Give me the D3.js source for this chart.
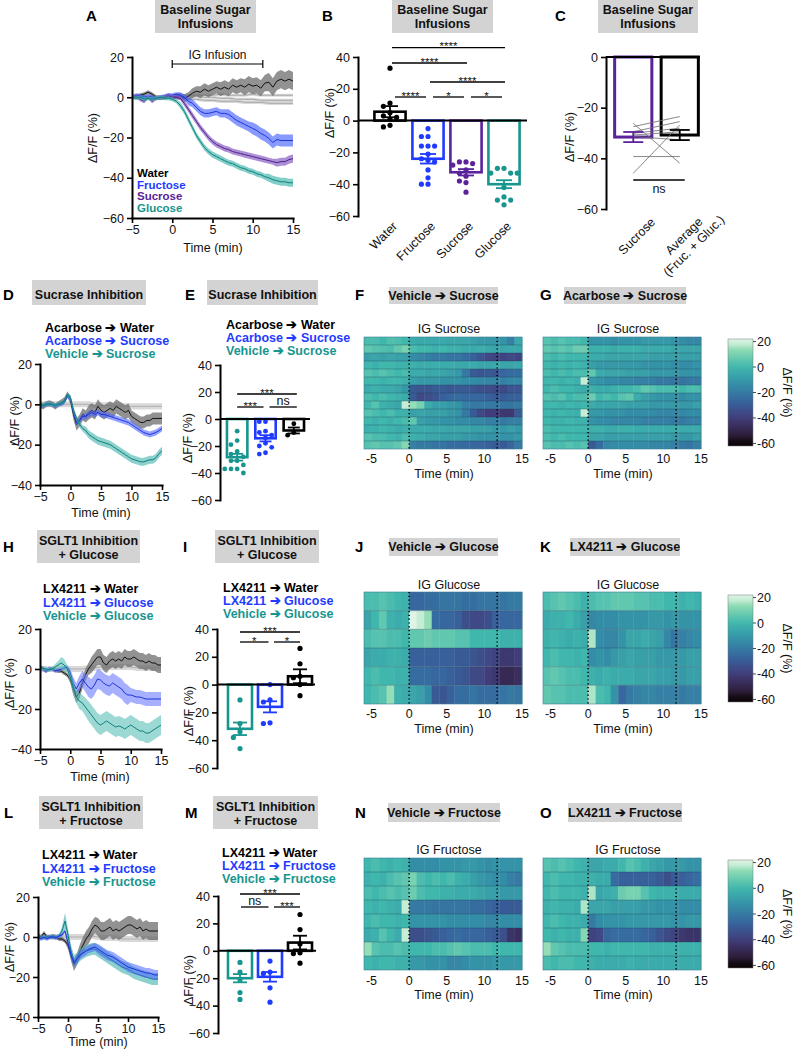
<!DOCTYPE html>
<html><head><meta charset="utf-8">
<script src="https://cdn.jsdelivr.net/npm/d3@7"></script>
<style>body{margin:0;background:#fff}</style>
</head><body>
<svg id="fig" width="795" height="1050"></svg>
<script>
// ======================= DATA =======================
const timeHalf = [-5,-4.5,-4,-3.5,-3,-2.5,-2,-1.5,-1,-0.5,0,0.5,1,1.5,2,2.5,3,3.5,4,4.5,5,5.5,6,6.5,7,7.5,8,8.5,9,9.5,10,10.5,11,11.5,12,12.5,13,13.5,14,14.5,15];
const timeWhole = [-5,-4,-3,-2,-1,0,1,2,3,4,5,6,7,8,9,10,11,12,13,14,15];
const xTicks = [-5,0,5,10,15];
const yTicksLine = [20,0,-20,-40,-60];
const yTicksShort = [20,0,-20,-40];
const yTicksBar = [40,20,0,-20,-40,-60];
const yTicksC = [0,-20,-40,-60];

// Panel A
const waterA_m = [0,0.5,1,1.5,2.5,1.5,0,-0.5,0,1,0,0.5,0.5,-0.5,0.5,2,3,2.5,4,3,4,5,4,5,4,6,5,6,5,6.5,5.5,6,4.5,7,7.5,5,8,9,8,9,8];
const waterA_s = [1,1,1,1,1,1,1,1,1,1,1,1.5,1.5,2,2,2.5,2.5,3,3,3,3,3,3.5,3.5,3.5,3.5,3.5,3.5,4,4,4,4,4,4,4.5,4.5,4.5,4.5,4.5,4.5,4.5];
const fructA_m = [0,1,0.5,0,0.5,0,-0.5,0,0.5,1,1,1.5,1,0,-2,-3,-5,-7,-8,-8,-7.5,-7,-8,-8,-8.5,-10,-11.5,-12.5,-13.5,-14.5,-15.5,-16.5,-18,-19,-20.5,-22.5,-21,-21.5,-21.5,-21.5,-21.5];
const fructA_s = [1,1,1,1,1,1,1,1,1,1,1,1,1.5,1.5,2,2,2,2,2,2,2,2,2,2,2.5,2.5,2.5,2.5,2.5,2.5,3,3,3,3,3,3,3,3,3,3,3];
const sucA_m = [0,0.5,-1,-2,0,-2,-0.5,0,0,0.5,0,0,-0.5,-3,-6,-9,-12,-15,-17.5,-20,-22,-23.5,-24.5,-25.5,-26,-27,-27.5,-28,-28.5,-29,-29.5,-30,-30.5,-31,-31.5,-32,-32.5,-32,-32,-31,-30.5];
const sucA_s = [1,1,1,1,1,1,1,1,1,1,1,1,1,1.5,1.5,1.5,1.5,1.5,1.5,1.5,1.5,1.5,1.5,1.5,1.5,1.5,1.5,1.5,1.5,1.5,1.5,1.5,1.5,1.5,1.5,1.5,2,2,2,2,2];
const glucA_m = [0,-0.5,0,-1,-0.5,-1,-0.5,0,-0.5,-0.5,-1,-2,-4,-7,-11,-15,-19,-22,-25,-27,-28.5,-29.5,-30.5,-31.5,-32.5,-33,-34,-35,-35.5,-36.5,-37,-38,-38.5,-39.5,-40,-41,-41.5,-42,-42,-42.5,-42.5];
const glucA_s = [1,1,1,1,1,1,1,1,1,1,1,1,1.5,1.5,1.5,1.5,1.5,1.5,1.5,1.5,1.5,1.5,1.5,1.5,1.5,1.5,1.5,1.5,1.5,1.5,1.5,1.5,1.5,1.5,2,2,2,2,2,2,2];
const ctrlA1 = [0,0,0.5,0,0,0,0,0.5,0.5,0,0,-0.5,-0.5,-1,-1,-1,-1.5,-1.5,-1.5,-1.5,-1.5];
const ctrlA2 = [0,0.5,0,0,-0.5,0,-0.5,-1,-1,-1.5,-1.5,-2,-2,-2,-2.5,-2.5,-2.5,-3,-3,-3,-3];
const ctrlA3 = [0,0,0,0.5,0,0,0.5,1,1,1,1,1.5,1,1,1,1.5,1,1,1,1,1];
const ctrlA_s = [0.8,0.8,0.8,0.8,0.8,0.8,0.8,0.8,0.8,0.8,0.8,0.8,0.8,0.8,0.8,0.8,0.8,0.8,0.8,0.8,0.8];
const infusionBracket = [0, 11.25];

// Panel B
const catsB = ["Water","Fructose","Sucrose","Glucose"];
const meanB = [5.6,-24,-32.5,-40];
const semB = [3.5,3,2,2.5];
const ptsB = [
  [33,11,9,5,3,2,1,-3,-4],
  [-5,-10,-10,-16,-16,-16,-21,-24,-25,-26,-31,-36,-40,-40],
  [-27,-26,-26,-28,-31,-33,-35,-38,-39,-45],
  [-30,-30,-33,-33,-33,-42,-48,-50,-50,-53]
];
const sigB = [[0,3,"****"],[0,2,"****"],[1,3,"****"],[0,1,"****"],[1,2,"*"],[2,3,"*"]];

// Panel C
const catsC = ["Sucrose","Average"];
const meanC = [-31.6,-30.8];
const semC = [2,2];
const pairSucrose = [-26.2,-45.9,-39.3,-27.5,-29.5,-30.1,-30.8,-31.4];
const pairAverage = [-41.9,-26.8,-39.3,-23.5,-25.5,-28.1,-29.5,-32.7];

// Panel D
const blackD_m = [0,-1,0,0.5,0,-1,0,1,2,5,2,-5,-10,-8,-5,-6,-4,-3,-4,-1,-3,-4,-3,-2,-3,-1,-2,-3,-4,-3,-6,-7,-8,-9,-9,-8,-8,-7,-7,-7,-7];
const blackD_s = [1.5,1.5,1.5,1.5,1.5,1.5,1.5,1.5,1.5,1.5,2,3,3,3,3,3,3.5,3.5,3.5,3.5,3.5,3.5,3.5,3.5,3.5,3.5,3.5,3.5,3.5,3.5,3,3,3,3,3,3,3,3,3,3,3];
const blueD_m = [0,-1,0,0,0,-1,0,0,1,4,3,-4,-9,-8,-6,-6,-5,-4,-5,-4,-5,-5,-5.5,-6,-6.5,-7,-7.5,-8,-8.5,-9,-10,-11,-12,-13,-14,-14.5,-15,-14.5,-14,-13,-12];
const blueD_s = [1,1,1,1,1,1,1,1,1,1,1.5,1.5,1.5,1.5,1.5,1.5,1.5,1.5,1.5,1.5,1.5,1.5,1.5,1.5,1.5,1.5,1.5,1.5,1.5,1.5,1.5,1.5,1.5,1.5,1.5,1.5,1.5,1.5,1.5,1.5,1.5];
const tealD_m = [0,-0.5,0,0,0,-0.5,0,0.5,1.5,5,3,-3,-7,-10,-12,-13,-15,-16,-17,-18,-18.5,-19,-19.5,-20,-21,-22,-23,-24,-25,-26,-27,-27.5,-28,-28.5,-28.5,-28,-27.5,-27.5,-26.5,-24.5,-23];
const tealD_s = [1,1,1,1,1,1,1,1,1,1,1.5,1.5,1.5,1.5,1.5,2,2,2,2,2,2,2,2,2,2,2,2,2,2,2,2,2,2,2,2,2,2,2,2,2,2];
const ctrlD = [0,0,0,0,0,0,0,0,0,-0.5,-0.5,-0.5,-0.5,-0.5,-1,-1,-1,-1,-1,-1,-1];
const ctrlD_s = [1.5,1.5,1.5,1.5,1.5,1.5,1.5,1.5,1.5,1.5,1.5,1.5,1.5,1.5,1.5,1.5,1.5,1.5,1.5,1.5,1.5];

// Panel E
const catsE = ["Vehicle→Sucrose","Acarbose→Sucrose","Acarbose→Water"];
const meanE = [-28.3,-14.3,-8.5];
const semE = [2.5,2.3,2.2];
const ptsE = [
  [-9,-16,-19,-24,-26,-28,-31,-31,-34,-37,-37,-37,-40],
  [-2,-2,-9,-10,-12,-14,-18,-20,-21,-25,-26],
  [-3.5,-10,-12]
];
const sigE = [[0,2,"***"],[0,1,"***"],[1,2,"ns"]];

// Panel H
const blackH_m = [1,0,-1,0,0,-0.5,-1,-1,-2,-3,-5,-10,-14,-12,-7,-3,0,2,4,6,6,3,2,4,5,4,5,4,6,5,5,6,5,4,4,3,4,3,3,2,2];
const blackH_s = [1,1,1,1,1,1,1,1,1,1,2,3,3,3,3,3,3,4,4,4,4,4,4,4,4,4,4,4,4,4,4,4,4,4,4,4,4,4,4,4,4];
const blueH_m = [1,0,-1,0,0,-1,-0.5,0,0.5,1,-2,-7,-10,-7,-5,-7,-9,-10,-8,-5,-5.5,-7,-8,-8.5,-7,-8,-9,-10,-12,-13,-13,-13.5,-14,-14,-14.5,-15,-15,-15,-15,-15,-15];
const blueH_s = [1,1,1,1,1,1,1,1,1,1,2,3,3,3.5,4,4.5,5,5,5,5,5,5,5,5,5,5,5,5,5,5,3.5,3.5,3.5,3.5,3.5,3.5,3.5,3.5,3.5,3.5,3.5];
const tealH_m = [1,0.5,0,-0.5,0,1,2,3,2,0,-4,-9,-14,-16,-17,-19,-21,-23,-25,-27,-28,-27,-26,-27,-28,-29,-28.5,-29,-30,-29,-28,-29,-30,-31,-31,-32,-32,-31,-30,-29,-28];
const tealH_s = [1,1,1,1,1,1.5,2,3,3,2,2,3,3,4,4,4.5,5,5,5,5,5,5,5,5,5,5,5,5,5,5,5,5,5,5,5,5,5,5,5,5,5];
const ctrlH = [0,0,0,0,0,0,0,0,0.5,0.5,1,1,1,1,1,1,0.5,0.5,0.5,0.5,0.5];
const ctrlH_s = [1.5,1.5,1.5,1.5,1.5,1.5,1.5,1.5,1.5,1.5,1.5,1.5,1.5,1.5,1.5,1.5,1.5,1.5,1.5,1.5,1.5];

// Panel I
const catsI = ["Vehicle→Glucose","LX4211→Glucose","LX4211→Water"];
const meanI = [-31.8,-16,6];
const semI = [4.5,4,5];
const ptsI = [[-11,-28,-34,-38,-46],[0,-11,-12.5,-27.5,-28],[26,15,6,5,0,-8]];
const sigI = [[0,2,"***"],[0,1,"*"],[1,2,"*"]];

// Panel L
const blackL_m = [1,0,2,0,0,0.5,0,-1,-1,-2,-4,-9,-14,-11,-7,-4,-1,1,4,6,5,3,3,4,5,3,4,3,4,5,6,6,5,4,5,3,4,3,3,3,3];
const blackL_s = [1,1,1,1,1,1,1,1,1,1,2,3,3,3,3.5,4,4,4,4,4,4.5,4.5,4.5,4.5,4.5,4.5,4.5,4.5,4.5,4.5,4.5,4.5,4.5,4.5,4.5,4.5,4.5,4.5,4.5,4.5,4.5];
const blueL_m = [0,-1,0,-1,0,0,-0.5,0.5,1,3,-3,-9,-13,-11,-9,-8,-7,-6,-5.5,-5,-6,-7,-8,-9,-9.5,-10,-11,-12,-13,-14,-15,-15.5,-16,-16.5,-17,-17.5,-18,-18,-18.5,-19,-19];
const blueL_s = [1,1,1,1,1,1,1,1,1,1,2,2,2,2,2,2,2,2,2,2,2.5,2.5,2.5,2.5,2.5,2.5,2.5,2.5,2.5,2.5,2.5,2.5,2.5,2.5,2.5,2.5,2.5,2.5,2.5,2.5,2.5];
const tealL_m = [0,0,-0.5,0,0,0,0,0.5,3,8,1,-7,-12,-11,-9,-8,-7,-6.5,-6,-6,-7,-8,-9,-10,-11,-12,-13,-14,-15,-15.5,-16,-17,-18,-18.5,-19,-19.5,-20,-20.5,-21,-21,-21];
const tealL_s = [1,1,1,1,1,1,1,1,2,4,3,3,3,3,3,3,3,3,3,3,3,3,3,3,3,3,3,3,3,3,3,3,3,3,3,3,3,3,3,3,3];
const ctrlL = [0,0,0,0,0,0,0,0,0,0.5,0,-0.5,-0.5,-0.5,-1,-1,-1,-1,-1,-1,-1];
const ctrlL_s = [1.5,1.5,1.5,1.5,1.5,1.5,1.5,1.5,1.5,1.5,1.5,1.5,1.5,1.5,1.5,1.5,1.5,1.5,1.5,1.5,1.5];

// Panel M
const catsM = ["Vehicle→Fructose","LX4211→Fructose","LX4211→Water"];
const meanM = [-20,-19,6];
const semM = [3,3.5,5];
const ptsM = [[-8.5,-15.5,-21,-30.5,-35.5],[-7.5,-15.5,-16.5,-27,-37.5],[26.5,15.5,5,-1.5,-2,-9]];
const sigM = [[0,2,"***"],[0,1,"ns"],[1,2,"***"]];

// Heatmaps: 1-min bins starting at these times
const heatBins = [-6,-5,-4,-3,-2,-1,0,1,2,3,4,5,6,7,8,9,10,11,12,13,14];
const heatF = [
 [2,2,0,3,2,0,-4,-5,-5,-5,-5,-6,-6,-6,-8,-10,-10,-10,-12,-18,-5],
 [6,4,3,2,6,10,2,0,0,-2,0,-2,-2,-4,-4,-3,-5,-6,-6,-5,-5],
 [-8,-6,-8,-6,-8,-8,-14,-16,-18,-20,-20,-22,-22,-24,-28,-32,-36,-38,-38,-36,-38],
 [0,-2,0,0,-2,-2,-2,-4,-4,-3,-4,-4,-5,-5,-4,-6,-6,-5,-6,-6,-5],
 [4,2,4,2,0,2,-4,-4,-6,-5,-6,-8,-10,-20,-30,-32,-30,-32,-26,-24,-24],
 [0,0,-2,0,0,-2,-8,-10,-10,-10,-12,-12,-12,-14,-14,-15,-16,-16,-18,-16,-16],
 [-4,-2,-4,-4,-6,-10,-30,-32,-32,-30,-30,-32,-30,-30,-32,-34,-34,-36,-36,-32,-32],
 [2,0,2,0,-2,-4,-30,-36,-34,-32,-28,-26,-24,-26,-26,-26,-28,-30,-30,-28,-28],
 [0,4,-2,-4,-6,18,14,10,-4,-8,-8,-10,-12,-18,-20,-20,-20,-20,-22,-22,-20],
 [4,2,0,2,-2,-2,-8,-6,-8,-8,-8,-10,-12,-20,-30,-36,-40,-40,-42,-42,-30],
 [0,-2,0,-2,0,2,6,-8,-10,-10,-12,-12,-14,-14,-16,-16,-18,-18,-20,-18,-18],
 [-2,-2,0,-2,-4,-2,-4,-4,-4,-5,-5,-6,-6,-6,-8,-8,-8,-10,-10,-8,-10],
 [4,2,2,0,-2,2,-2,-4,-6,-6,-8,-8,-8,-10,-10,-12,-12,-12,-12,-12,-10],
 [4,6,4,4,6,12,-18,-20,-20,-22,-22,-24,-24,-25,-26,-26,-28,-30,-30,-26,-20]
];
const heatG = [
 [4,2,4,2,2,0,-12,-12,-12,-14,-12,-12,-12,-10,-10,-10,-10,-12,-14,-16,-16],
 [6,4,6,4,8,8,-2,-2,-2,-4,-2,-2,-2,-4,-4,-4,-4,-6,-6,-6,-6],
 [2,0,2,0,0,0,-4,-4,-6,-6,-6,-6,-6,-6,-8,-8,-8,-8,-8,-8,-8],
 [0,-2,0,-2,0,-2,-8,-10,-10,-10,-10,-10,-10,-12,-12,-12,-12,-14,-14,-14,-12],
 [2,0,2,0,2,2,6,-4,-6,-6,-6,-8,-8,-8,-10,-10,-10,-10,-12,-12,-12],
 [0,0,-2,0,-2,18,-10,-12,-14,-14,-16,-16,-18,-18,-18,-20,-20,-22,-22,-20,-20],
 [0,2,0,0,-2,-4,-2,-4,-4,-2,0,0,2,6,4,2,2,2,0,2,2],
 [4,2,4,0,2,2,8,0,2,0,4,6,-4,-8,-10,-12,-12,-12,-14,-12,-12],
 [0,0,-2,0,-2,0,-4,-6,-6,-6,-6,-8,-8,-8,-10,-10,-10,-10,-10,-10,-8],
 [0,-2,0,-2,-2,18,-10,-10,-12,-12,-12,-14,-14,-14,-14,-16,-16,-16,-16,-14,-14],
 [0,-2,-2,0,-2,-2,-12,-14,-14,-16,-16,-16,-16,-18,-18,-18,-18,-20,-20,-18,-18],
 [2,0,0,0,0,0,-2,-2,-4,-4,-2,-2,-4,-4,-4,-4,-4,-4,-4,-4,-4],
 [2,0,2,0,0,0,-6,-6,-8,-8,-8,-8,-8,-8,-8,-8,-8,-10,-10,-10,-8],
 [4,2,2,4,2,4,-30,-24,-16,-14,-14,-14,-14,-14,-16,-16,-16,-18,-20,-22,-18]
];
const heatJ = [
 [2,2,4,2,0,-2,-26,-26,-24,-24,-22,-22,-22,-24,-24,-22,-22,-22,-22,-20,-20],
 [-6,0,6,-2,-4,-2,20,18,14,-24,-26,-26,-28,-34,-36,-36,-34,-28,-26,-26,-26],
 [2,4,4,2,2,0,6,6,8,6,6,6,4,4,0,0,0,0,-2,-2,-2],
 [-6,-4,-4,-2,-2,-4,-28,-28,-28,-28,-28,-28,-30,-30,-32,-34,-36,-38,-42,-42,-40],
 [0,2,0,0,-2,-2,-24,-24,-24,-26,-26,-28,-30,-32,-36,-36,-40,-42,-48,-48,-46],
 [0,2,4,14,-2,-4,-6,-8,-14,-30,-32,-28,-24,-24,-22,-24,-24,-24,-22,-20,-22]
];
const heatK = [
 [2,4,6,4,2,-2,2,4,4,6,6,6,4,4,2,2,0,0,-2,0,-2],
 [-4,-2,-2,0,-4,-8,-16,-14,-14,-14,-12,-12,-12,-12,-10,-10,-12,-10,-12,-12,-12],
 [-2,0,-2,-4,-2,-4,16,-14,-16,-16,-12,-6,-6,-4,-6,-8,-16,-22,-18,-16,-14],
 [0,2,0,0,-2,0,-14,-12,-14,-10,-8,-6,-8,-8,-8,-10,-10,-10,-10,-8,-8],
 [4,6,4,2,2,0,-2,-4,-2,-4,-4,-4,-6,-6,-6,-8,-8,-10,-10,-8,-8],
 [6,4,4,2,2,2,16,2,0,-12,-26,-20,-18,-16,-16,-18,-18,-18,-20,-18,-18]
];
const heatN = [
 [0,2,0,-2,0,-2,-14,-14,-14,-14,-12,-12,-12,-10,-10,-12,-14,-12,-12,-12,-12],
 [-2,0,-2,2,4,6,10,2,0,2,0,2,-2,-4,-8,-10,-12,-14,-14,-18,-20],
 [2,0,2,4,2,4,8,2,0,0,-2,-2,-4,-4,-4,-6,-8,-8,-10,-10,-10],
 [0,-2,0,-2,-4,18,-20,-20,-20,-22,-22,-22,-22,-22,-24,-24,-26,-28,-30,-30,-30],
 [0,2,0,0,-2,0,-12,-12,-12,-12,-12,-14,-14,-14,-14,-14,-16,-16,-14,-14,-14],
 [-4,-2,4,0,-4,18,-34,-34,-32,-30,-28,-26,-24,-26,-26,-26,-28,-30,-34,-44,-46],
 [14,4,2,2,4,2,0,0,0,2,2,4,6,4,2,2,2,0,0,0,0],
 [0,-2,0,0,-2,-2,-10,-10,-12,-12,-12,-16,-16,-14,-12,-12,-12,-10,-10,-10,-10]
];
const heatO = [
 [4,2,4,2,0,-2,-6,-6,-4,-4,0,4,2,-2,-6,-8,-10,-10,-10,-12,-12],
 [0,2,0,0,-2,-2,-2,-4,-4,-24,-28,-28,-28,-28,-28,-30,-34,-30,-28,-26,-24],
 [0,2,0,0,0,-2,16,-6,-4,-2,8,10,10,4,0,-2,-2,-2,-4,-4,-4],
 [-2,0,-2,-2,-4,16,-6,-6,-6,-8,-8,-8,-8,-10,-10,-12,-12,-12,-14,-14,-14],
 [0,2,0,-2,-2,-4,-20,-14,-12,-12,-12,-10,-10,-10,-10,-10,-10,-12,-12,-10,-10],
 [0,-2,0,-2,-2,12,-38,-36,-26,-24,-24,-24,-24,-26,-28,-32,-36,-38,-42,-44,-44],
 [14,6,4,2,2,2,0,0,-2,0,0,0,0,0,-2,-2,-2,-2,-2,-2,-2],
 [2,0,2,2,0,0,-2,-4,-4,-4,-4,-2,-4,-4,-4,-4,-4,-4,-4,-4,-4]
];
const heatMarks = [0, 11.7];
const colorbarTicks = [20,0,-20,-40,-60];
const makoValues = [-60,-53.3,-40,-26.7,-13.3,0,13.3,20];
const makoColors = ['#0b0405','#2e1e3b','#413d7b','#37659e','#348fa7','#40b7ad','#8bdab2','#def5e5'];

// ======================= DRAWING =======================
const FONT = '"Liberation Sans", Arial, Helvetica, sans-serif';
const svg = d3.select('#fig').attr('font-family', FONT);
const C = {black:'#000000', blue:'#1f3bff', purple:'#5a239c', teal:'#17958f'};
const mako = d3.scaleLinear().domain(makoValues).range(makoColors).clamp(true);

function txt(x, y, s, o = {}) {
  const t = svg.append('text').attr('x', x).attr('y', y).text(s)
    .attr('font-size', o.size || 12.5).attr('fill', o.fill || '#111')
    .attr('text-anchor', o.anchor || 'start');
  if (o.bold) t.attr('font-weight', 'bold');
  return t;
}
function letter(x, y, s) { txt(x, y, s, {size: 15, bold: true, fill: '#000'}); }
function titleBox(x0, y0, x1, y1, lines, baselines) {
  svg.append('rect').attr('x', x0).attr('y', y0).attr('width', x1 - x0).attr('height', y1 - y0).attr('fill', '#d3d3d3');
  lines.forEach((l, i) => txt((x0 + x1) / 2, baselines[i], l, {bold: true, anchor: 'middle', fill: '#111'}));
}
function yLabel(x, y, s) {
  svg.append('text').attr('transform', `translate(${x},${y}) rotate(-90)`).attr('text-anchor', 'middle')
    .attr('font-size', 12.5).attr('fill', '#111').text(s);
}
function styleAxis(g) {
  g.attr('font-family', FONT).attr('font-size', 12.5);
  g.select('.domain').attr('stroke', '#000').attr('stroke-width', 2).attr('stroke-linecap', 'square');
  g.selectAll('.tick line').attr('stroke', '#000').attr('stroke-width', 1.6);
  g.selectAll('.tick text').attr('fill', '#111');
}
function legend(x, baselines, items, size) {
  items.forEach((it, i) => txt(x, baselines[i], it[0], {bold: true, fill: it[1], size: size || 12.5}));
}

function lineChart(o) {
  const x = d3.scaleLinear().domain([-5, 15]).range([o.x0, o.x1]);
  const y = d3.scaleLinear().domain(o.yd).range([o.yb, o.yt]);
  const g = svg.append('g');
  o.series.forEach(s => {
    const pts = s.t.map((t, i) => ({t, m: s.m[i], e: s.s[i]}));
    g.append('path').datum(pts)
      .attr('d', d3.area().x(d => x(d.t)).y0(d => y(d.m - d.e)).y1(d => y(d.m + d.e)))
      .attr('fill', s.band).attr('fill-opacity', s.op);
    g.append('path').datum(pts)
      .attr('d', d3.line().x(d => x(d.t)).y(d => y(d.m)))
      .attr('fill', 'none').attr('stroke', s.line).attr('stroke-width', s.w || 1);
  });
  styleAxis(g.append('g').attr('transform', `translate(${o.x0},0)`)
    .call(d3.axisLeft(y).tickValues(o.yTicks).tickSize(5).tickSizeOuter(0).tickPadding(3)));
  styleAxis(g.append('g').attr('transform', `translate(0,${o.yb})`)
    .call(d3.axisBottom(x).tickValues(xTicks).tickSize(5).tickSizeOuter(0).tickPadding(2)));
  return {x, y};
}

function swarm(vals, y, cx, r) {
  const order = vals.map((v, i) => i).sort((a, b) => vals[b] - vals[a]);
  const placed = [];
  const offs = [0, -1, 1, -2, 2, -3, 3];
  order.forEach(i => {
    const py = y(vals[i]);
    let done = false;
    for (const k of offs) {
      const px = cx + k * (2 * r + 1.4);
      if (placed.every(p => Math.hypot(p[0] - px, p[1] - py) >= 2 * r + 0.6)) { placed.push([px, py]); done = true; break; }
    }
    if (!done) placed.push([cx, py]);
  });
  return placed;
}

function barChart(o) {
  const x = d3.scaleBand().domain(o.cats).range(o.xr).paddingInner(o.pi).paddingOuter(o.po);
  const y = d3.scaleLinear().domain(o.yd).range([o.yb, o.yt]);
  const g = svg.append('g');
  const bw = x.bandwidth();
  o.cats.forEach((c, i) => {
    const v = o.vals[i], col = o.colors[i];
    g.append('rect').attr('x', x(c)).attr('y', Math.min(y(v), y(0))).attr('width', bw)
      .attr('height', Math.abs(y(v) - y(0))).attr('fill', '#fff').attr('stroke', col).attr('stroke-width', o.sw || 2.6);
  });
  if (o.pairs) {
    o.pairs[0].forEach((v, k) => {
      g.append('line').attr('x1', x(o.cats[0]) + bw / 2).attr('x2', x(o.cats[1]) + bw / 2)
        .attr('y1', y(v)).attr('y2', y(o.pairs[1][k])).attr('stroke', '#6a6a6a').attr('stroke-width', 0.8);
    });
  }
  o.cats.forEach((c, i) => {
    const v = o.vals[i], s = o.sems[i], col = o.colors[i], cx = x(c) + bw / 2;
    const cw = o.cap || bw * 0.32;
    g.append('line').attr('x1', cx).attr('x2', cx).attr('y1', y(v - s)).attr('y2', y(v + s)).attr('stroke', col).attr('stroke-width', 1.8);
    [v - s, v + s].forEach(e => g.append('line').attr('x1', cx - cw).attr('x2', cx + cw).attr('y1', y(e)).attr('y2', y(e)).attr('stroke', col).attr('stroke-width', 1.8));
    if (o.pts) {
      swarm(o.pts[i], y, cx, o.r || 2.6).forEach(p =>
        g.append('circle').attr('cx', p[0]).attr('cy', p[1]).attr('r', o.r || 2.6).attr('fill', col));
    }
  });
  g.append('line').attr('x1', o.axisX).attr('x2', o.zeroEnd).attr('y1', y(0)).attr('y2', y(0)).attr('stroke', '#000').attr('stroke-width', 2);
  styleAxis(g.append('g').attr('transform', `translate(${o.axisX},0)`)
    .call(d3.axisLeft(y).tickValues(o.yTicks).tickSize(5).tickSizeOuter(0).tickPadding(3)));
  return {x, y, c: c => x(c) + bw / 2};
}

function sigLine(x1, x2, yL, label, textY, size) {
  svg.append('line').attr('x1', x1).attr('x2', x2).attr('y1', yL).attr('y2', yL).attr('stroke', '#000').attr('stroke-width', 1.3);
  txt((x1 + x2) / 2, textY, label, {anchor: 'middle', size: size || 11.5, fill: '#111'});
}

function heatmap(o) {
  const x = d3.scaleLinear().domain([-6, 15]).range([o.x0, o.x1]);
  const y = d3.scaleBand().domain(d3.range(o.rows.length)).range([o.y0, o.y1]);
  const g = svg.append('g');
  o.rows.forEach((r, i) => r.forEach((v, j) => {
    const xa = x(heatBins[j]), xb = x(heatBins[j] + 1);
    g.append('rect').attr('x', xa).attr('y', y(i)).attr('width', xb - xa + 0.4).attr('height', y.bandwidth())
      .attr('fill', mako(v));
  }));
  o.rows.forEach((r, i) => { if (i > 0) g.append('line').attr('x1', o.x0).attr('x2', o.x1).attr('y1', y(i)).attr('y2', y(i)).attr('stroke', '#1d3a4c').attr('stroke-opacity', 0.45).attr('stroke-width', 0.7); });
  g.append('rect').attr('x', o.x0).attr('y', o.y0).attr('width', o.x1 - o.x0).attr('height', o.y1 - o.y0)
    .attr('fill', 'none').attr('stroke', '#3c7d95').attr('stroke-width', 0.6);
  heatMarks.forEach(t => g.append('line').attr('x1', x(t)).attr('x2', x(t)).attr('y1', o.y0).attr('y2', o.y1)
    .attr('stroke', '#000').attr('stroke-width', 1.6).attr('stroke-dasharray', '1.2,2.6'));
  xTicks.forEach(t => txt(x(t), o.tickY, String(t), {anchor: 'middle', size: 12.5}));
  txt((o.x0 + o.x1) / 2 + 6, o.titleY, o.title, {anchor: 'middle', size: 12.5});
  txt((o.x0 + o.x1) / 2 + 1, o.labelY, 'Time (min)', {anchor: 'middle', size: 12.5});
}

// colorbar gradient
const defs = svg.append('defs');
const grad = defs.append('linearGradient').attr('id', 'cbgrad').attr('x1', 0).attr('y1', 0).attr('x2', 0).attr('y2', 1);
d3.range(0, 1.0001, 0.05).forEach(f => grad.append('stop').attr('offset', f).attr('stop-color', mako(22 - f * 84)));
function colorbar(x0, y0, y1) {
  const y = d3.scaleLinear().domain([-62, 22]).range([y1, y0]);
  svg.append('rect').attr('x', x0).attr('y', y0).attr('width', 25).attr('height', y1 - y0).attr('fill', 'url(#cbgrad)').attr('stroke', '#777').attr('stroke-width', 0.5);
  colorbarTicks.forEach(t => {
    svg.append('line').attr('x1', x0 + 25).attr('x2', x0 + 28).attr('y1', y(t)).attr('y2', y(t)).attr('stroke', '#222').attr('stroke-width', 0.8);
    txt(x0 + 29, y(t) + 4.5, String(t), {size: 12.5});
  });
  svg.append('text').attr('transform', `translate(${x0 + 55},${(y0 + y1) / 2}) rotate(90)`).attr('text-anchor', 'middle')
    .attr('font-size', 12.5).attr('fill', '#111').text('ΔF/F (%)');
}

// ---------------- Row 1: A, B, C ----------------
letter(86, 21, 'A');
titleBox(155, 0, 256, 33, ['Baseline Sugar', 'Infusions'], [14, 28]);
const A = lineChart({x0: 132, x1: 293, yt: 57, yb: 218, yd: [-60, 20], yTicks: yTicksLine, series: [
  {t: timeWhole, m: ctrlA1, s: ctrlA_s, band: '#cfcfcf', op: 0.8, line: '#a8a8a8'},
  {t: timeWhole, m: ctrlA2, s: ctrlA_s, band: '#cfcfcf', op: 0.8, line: '#a8a8a8'},
  {t: timeWhole, m: ctrlA3, s: ctrlA_s, band: '#cfcfcf', op: 0.8, line: '#a8a8a8'},
  {t: timeHalf, m: waterA_m, s: waterA_s, band: '#6e6e6e', op: 0.75, line: '#111'},
  {t: timeHalf, m: fructA_m, s: fructA_s, band: '#4a64ff', op: 0.65, line: '#1f33d6'},
  {t: timeHalf, m: sucA_m, s: sucA_s, band: '#8a5fc4', op: 0.7, line: '#4d1f8c'},
  {t: timeHalf, m: glucA_m, s: glucA_s, band: '#3fb3ac', op: 0.65, line: '#0f7f7a'}
]});
{
  const xa = A.x(infusionBracket[0]), xb = A.x(infusionBracket[1]);
  svg.append('line').attr('x1', xa).attr('x2', xb).attr('y1', 64).attr('y2', 64).attr('stroke', '#000').attr('stroke-width', 1.2);
  [xa, xb].forEach(v => svg.append('line').attr('x1', v).attr('x2', v).attr('y1', 60).attr('y2', 68).attr('stroke', '#000').attr('stroke-width', 1.2));
  txt((xa + xb) / 2, 59, 'IG Infusion', {anchor: 'middle', size: 12});
}
legend(137, [177, 188.5, 200, 211.5], [['Water', C.black], ['Fructose', C.blue], ['Sucrose', C.purple], ['Glucose', C.teal]], 11.5);
yLabel(97, 138, 'ΔF/F (%)');
txt(213, 252, 'Time (min)', {anchor: 'middle', size: 12.5});

letter(322, 21, 'B');
titleBox(392, 0, 493, 33, ['Baseline Sugar', 'Infusions'], [14, 28]);
const B = barChart({cats: catsB, vals: meanB, sems: semB, pts: ptsB, colors: [C.black, C.blue, C.purple, C.teal],
  xr: [371, 523], pi: 0.18, po: 0.09, yd: [-60, 40], yb: 216, yt: 57, yTicks: yTicksBar, axisX: 358, zeroEnd: 527, cap: 8});
{
  const lv = [47.7, 63, 82, 97, 97, 97];
  sigB.forEach((s, k) => {
    const c1 = B.c(catsB[s[0]]), c2 = B.c(catsB[s[1]]);
    const adj = s[1] - s[0] === 1;
    sigLine(c1 + (adj ? 5 : 2), c2 - (adj ? 2 : -1), lv[k], s[2], lv[k] + 2.5);
  });
  catsB.forEach(c => svg.append('text').attr('transform', `translate(${B.c(c) + 8},${227}) rotate(-45)`)
    .attr('text-anchor', 'end').attr('font-size', 12.5).attr('fill', '#111').text(c));
}
yLabel(334, 113, 'ΔF/F (%)');

letter(555, 21, 'C');
titleBox(598, 0, 698, 33, ['Baseline Sugar', 'Infusions'], [14, 28]);
const Cc = barChart({cats: catsC, vals: meanC, sems: semC, pairs: [pairSucrose, pairAverage], colors: [C.purple, '#000'],
  xr: [610, 703], pi: 0.2, po: 0.1, yd: [-60, 0], yb: 209, yt: 57, yTicks: yTicksC, axisX: 606, zeroEnd: 700, sw: 3, cap: 10});
sigLine(Cc.c('Sucrose'), Cc.c('Average') + 5, 180, 'ns', 193, 12.5);
svg.append('text').attr('transform', `translate(${656},${223}) rotate(-45)`).attr('text-anchor', 'end').attr('font-size', 12.5).attr('fill', '#111').text('Sucrose');
{
  const g = svg.append('g').attr('transform', `translate(${687},${239}) rotate(-45)`);
  g.append('text').attr('text-anchor', 'middle').attr('font-size', 12.5).attr('fill', '#111').text('Average');
  g.append('text').attr('y', 14).attr('text-anchor', 'middle').attr('font-size', 12.5).attr('fill', '#111').text('(Fruc. + Gluc.)');
}
yLabel(574, 137, 'ΔF/F (%)');

// ---------------- Row 2: D, E, F, G ----------------
letter(3, 300, 'D');
titleBox(32, 280, 146, 305, ['Sucrase Inhibition'], [299]);
legend(45, [332, 345, 358], [['Acarbose ➔ Water', C.black], ['Acarbose ➔ Sucrose', C.blue], ['Vehicle ➔ Sucrose', C.teal]]);
lineChart({x0: 40, x1: 162, yt: 364, yb: 485, yd: [-40, 20], yTicks: yTicksShort, series: [
  {t: timeWhole, m: ctrlD, s: ctrlD_s, band: '#cfcfcf', op: 0.8, line: '#b0b0b0'},
  {t: timeHalf, m: blackD_m, s: blackD_s, band: '#6e6e6e', op: 0.75, line: '#111'},
  {t: timeHalf, m: blueD_m, s: blueD_s, band: '#4a64ff', op: 0.6, line: '#1f33d6'},
  {t: timeHalf, m: tealD_m, s: tealD_s, band: '#3fb3ac', op: 0.6, line: '#0f7f7a'}
]});
yLabel(19, 421, 'ΔF/F (%)');
txt(101, 517, 'Time (min)', {anchor: 'middle'});

letter(185, 300, 'E');
titleBox(207, 280, 318, 305, ['Sucrase Inhibition'], [299]);
legend(226, [329, 342, 355], [['Acarbose ➔ Water', C.black], ['Acarbose ➔ Sucrose', C.blue], ['Vehicle ➔ Sucrose', C.teal]]);
const E = barChart({cats: catsE, vals: meanE, sems: semE, pts: ptsE, colors: [C.teal, C.blue, '#000'],
  xr: [223, 308], pi: 0.28, po: 0.14, yd: [-60, 40], yb: 500, yt: 365, yTicks: yTicksBar, axisX: 220, zeroEnd: 310, r: 2.4, cap: 6});
{
  const c = catsE.map(E.c);
  sigLine(c[0], c[2] + 3, 394, sigE[0][2], 396.5);
  sigLine(c[0], c[1] - 2, 407, sigE[1][2], 409.5);
  sigLine(c[1] + 4, c[2] + 3, 407, sigE[2][2], 405, 12.5);
}
yLabel(192, 438, 'ΔF/F (%)');

letter(355, 300, 'F');
titleBox(389, 287, 498, 304, ['Vehicle ➔ Sucrose'], [300]);
heatmap({x0: 364, x1: 522, y0: 337, y1: 449, rows: heatF, title: 'IG Sucrose', titleY: 333, tickY: 463, labelY: 478});
letter(540, 300, 'G');
titleBox(564, 287, 686, 304, ['Acarbose ➔ Sucrose'], [300]);
heatmap({x0: 543, x1: 701, y0: 337, y1: 449, rows: heatG, title: 'IG Sucrose', titleY: 333, tickY: 463, labelY: 478});
colorbar(728, 339, 446);

// ---------------- Row 3: H, I, J, K ----------------
letter(3, 552, 'H');
titleBox(37, 530, 140, 563, ['SGLT1 Inhibition', '+ Glucose'], [545, 559]);
legend(43, [593, 607, 620], [['LX4211 ➔ Water', C.black], ['LX4211 ➔ Glucose', C.blue], ['Vehicle ➔ Glucose', C.teal]]);
lineChart({x0: 40, x1: 161, yt: 629, yb: 749, yd: [-40, 20], yTicks: yTicksShort, series: [
  {t: timeWhole, m: ctrlH, s: ctrlH_s, band: '#cfcfcf', op: 0.8, line: '#b0b0b0'},
  {t: timeHalf, m: blackH_m, s: blackH_s, band: '#6e6e6e', op: 0.75, line: '#111'},
  {t: timeHalf, m: blueH_m, s: blueH_s, band: '#6a7cff', op: 0.6, line: '#1f33d6'},
  {t: timeHalf, m: tealH_m, s: tealH_s, band: '#5cbfb8', op: 0.6, line: '#0f7f7a'}
]});
yLabel(14, 683, 'ΔF/F (%)');
txt(100, 781, 'Time (min)', {anchor: 'middle'});

letter(183, 552, 'I');
titleBox(215, 530, 319, 563, ['SGLT1 Inhibition', '+ Glucose'], [545, 559]);
legend(223, [592, 605, 618], [['LX4211 ➔ Water', C.black], ['LX4211 ➔ Glucose', C.blue], ['Vehicle ➔ Glucose', C.teal]]);
const I = barChart({cats: catsI, vals: meanI, sems: semI, pts: ptsI, colors: [C.teal, C.blue, '#000'],
  xr: [224, 316], pi: 0.2, po: 0.133, yd: [-60, 40], yb: 768, yt: 629, yTicks: yTicksBar, axisX: 217, zeroEnd: 315, r: 2.6, cap: 7});
{
  const c = catsI.map(I.c);
  sigLine(c[0], c[2], 632, sigI[0][2], 634.5);
  sigLine(c[0], c[1] - 1.5, 642, sigI[1][2], 644.5);
  sigLine(c[1] + 4, c[2], 642, sigI[2][2], 644.5);
}
yLabel(193, 711, 'ΔF/F (%)');

letter(355, 552, 'J');
titleBox(389, 538, 498, 556, ['Vehicle ➔ Glucose'], [551]);
heatmap({x0: 364, x1: 522, y0: 592, y1: 704, rows: heatJ, title: 'IG Glucose', titleY: 589, tickY: 718, labelY: 733});
letter(540, 552, 'K');
titleBox(570, 538, 680, 556, ['LX4211 ➔ Glucose'], [551]);
heatmap({x0: 543, x1: 701, y0: 592, y1: 704, rows: heatK, title: 'IG Glucose', titleY: 589, tickY: 718, labelY: 733});
colorbar(728, 595, 702);

// ---------------- Row 4: L, M, N, O ----------------
letter(4, 818, 'L');
titleBox(39, 796, 143, 829, ['SGLT1 Inhibition', '+ Fructose'], [811, 825]);
legend(42, [859, 873, 886], [['LX4211 ➔ Water', C.black], ['LX4211 ➔ Fructose', C.blue], ['Vehicle ➔ Fructose', C.teal]]);
lineChart({x0: 38, x1: 158, yt: 897, yb: 1017, yd: [-40, 20], yTicks: yTicksShort, series: [
  {t: timeWhole, m: ctrlL, s: ctrlL_s, band: '#cfcfcf', op: 0.8, line: '#b0b0b0'},
  {t: timeHalf, m: blackL_m, s: blackL_s, band: '#6e6e6e', op: 0.75, line: '#111'},
  {t: timeHalf, m: tealL_m, s: tealL_s, band: '#3fb3ac', op: 0.6, line: '#0f7f7a'},
  {t: timeHalf, m: blueL_m, s: blueL_s, band: '#4a64ff', op: 0.55, line: '#1f33d6'}
]});
yLabel(14, 947, 'ΔF/F (%)');
txt(98, 1046, 'Time (min)', {anchor: 'middle'});

letter(185, 818, 'M');
titleBox(213, 796, 318, 829, ['SGLT1 Inhibition', '+ Fructose'], [811, 825]);
legend(222, [857, 870, 883], [['LX4211 ➔ Water', C.black], ['LX4211 ➔ Fructose', C.blue], ['Vehicle ➔ Fructose', C.teal]]);
const M = barChart({cats: catsM, vals: meanM, sems: semM, pts: ptsM, colors: [C.teal, C.blue, '#000'],
  xr: [224, 316], pi: 0.2, po: 0.133, yd: [-60, 40], yb: 1033, yt: 896, yTicks: yTicksBar, axisX: 218, zeroEnd: 316, r: 2.6, cap: 7});
{
  const c = catsM.map(M.c);
  sigLine(c[0], c[2], 894, sigM[0][2], 896.5);
  sigLine(c[0] + 1, c[1] - 1.5, 907, sigM[1][2], 905, 12.5);
  sigLine(c[1] + 4, c[2], 907, sigM[2][2], 909.5);
}
yLabel(193, 980, 'ΔF/F (%)');

letter(355, 818, 'N');
titleBox(388, 803, 500, 822, ['Vehicle ➔ Fructose'], [817]);
heatmap({x0: 364, x1: 522, y0: 858, y1: 970, rows: heatN, title: 'IG Fructose', titleY: 854, tickY: 985, labelY: 999});
letter(540, 818, 'O');
titleBox(568, 803, 682, 822, ['LX4211 ➔ Fructose'], [817]);
heatmap({x0: 543, x1: 701, y0: 858, y1: 970, rows: heatO, title: 'IG Fructose', titleY: 854, tickY: 985, labelY: 999});
colorbar(728, 860, 968);
</script>
</body></html>
